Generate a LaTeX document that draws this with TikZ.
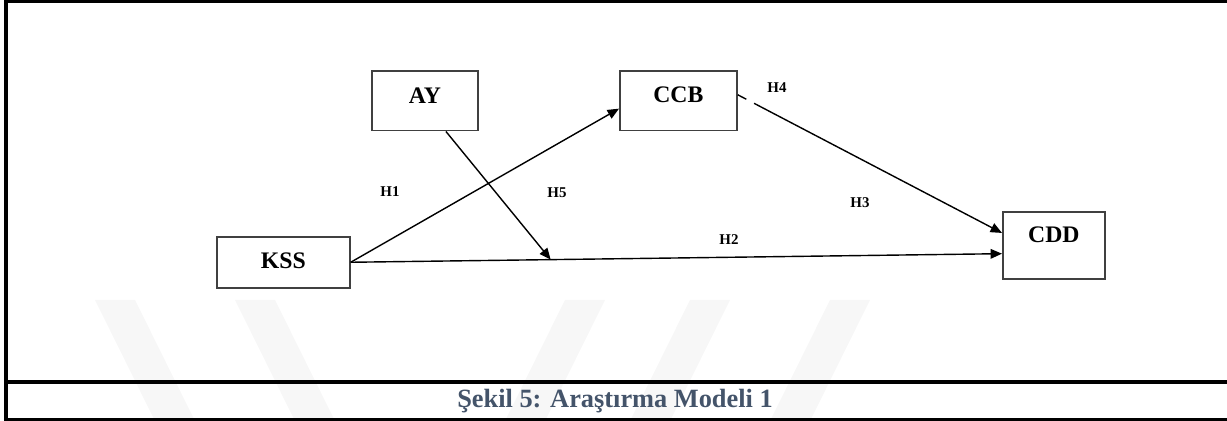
\documentclass[tikz,border=0pt]{standalone}
\usepackage{fontspec}
\setmainfont{Liberation Serif}
\usepackage{xcolor}
\usetikzlibrary{arrows.meta}
\definecolor{captionblue}{HTML}{44546A}
\definecolor{boxgray}{HTML}{404040}

\begin{document}
\begin{tikzpicture}[x=0.02cm, y=-0.02cm]
    \tikzstyle{varbox} = [rectangle, draw=boxgray, line width=1pt, inner xsep=0pt, inner ysep=0pt, anchor=north west, font=\fontsize{13.5}{14}\selectfont\bfseries]
    \tikzstyle{hyp} = [inner sep=0pt, font=\fontsize{8.5}{9}\selectfont\bfseries]
    \tikzstyle{path} = [line width=0.8pt, -{Triangle[length=6.5pt, width=5.5pt]}]
    \tikzstyle{stripe} = [fill=gray!6, draw=none]

    \useasboundingbox (0,0) rectangle (1227,421);

    % Watermark
    \begin{scope}
        \clip (6,290) rectangle (1227,420);
        \fill[stripe] (95,300) -- (135,300) -- (195,421) -- (155,421) -- cycle;
        \fill[stripe] (235,300) -- (275,300) -- (335,421) -- (295,421) -- cycle;
        \fill[stripe] (565,300) -- (605,300) -- (545,421) -- (505,421) -- cycle;
        \fill[stripe] (690,300) -- (730,300) -- (670,421) -- (630,421) -- cycle;
        \fill[stripe] (830,300) -- (870,300) -- (810,421) -- (770,421) -- cycle;
    \end{scope}

    % Frame
    \draw[line width=2pt] (1227,1) -- (6,1) -- (6,420) -- (1227,420);
    \draw[line width=2pt] (6,382) -- (1227,382);

    % Variables
    \node[varbox, minimum width=2.12cm, text height=18.5pt, text depth=15.5pt] (AY) at (371,70) {AY};
    \node[varbox, minimum width=2.66cm, text height=18pt, text depth=10.9pt] (KSS) at (216,236) {KSS};
    \node[varbox, minimum width=2.34cm, text height=18pt, text depth=16pt] (CCB) at (619,70) {CCB};
    \node[varbox, minimum width=2.04cm, text height=17.5pt, text depth=20.5pt] (CDD) at (1002,211) {CDD};

    % Paths
    \draw[path] (KSS.east) -- ([yshift=-4.5pt]CCB.west);
    \draw[path] (KSS.east) -- coordinate[pos=0.307] (mod) ([yshift=-4.8pt]CDD.west);
    \draw[path] ([xshift=12pt]AY.south) -- (mod);
    \draw[path, dash pattern=on 5.5pt off 5pt on 300pt] ([yshift=3.4pt]CCB.east) -- ([yshift=7pt]CDD.west);

    % Hypotheses
    \node[hyp] (h1) at (390,192) {H1};
    \node[hyp] (h2) at (729,240) {H2};
    \node[hyp] (h3) at (860,203) {H3};
    \node[hyp] (h4) at (777,88) {H4};
    \node[hyp] (h5) at (557,193) {H5};

    % Caption
    \node[font=\fontsize{15}{16}\selectfont\bfseries, text=captionblue] (cap) at (615,401) {Şekil 5: Araştırma Modeli 1};
\end{tikzpicture}
\end{document}
